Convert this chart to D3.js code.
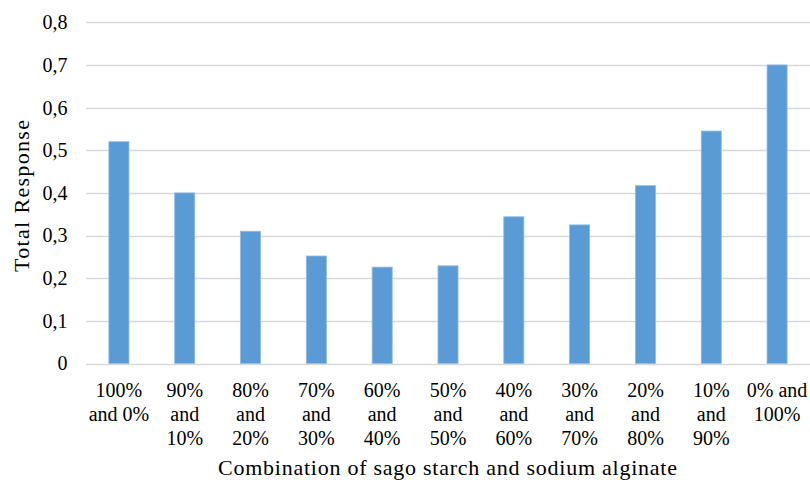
<!DOCTYPE html>
<html>
<head>
<meta charset="utf-8">
<script src="https://cdn.jsdelivr.net/npm/d3@7"></script>
<style>
  html, body { margin: 0; padding: 0; background: #fff; }
  text { font-family: "Liberation Serif", "Times New Roman", serif; fill: #000; }
</style>
</head>
<body>
<svg id="chart" width="810" height="480"></svg>
<script>
// Mixture ratios (sago starch and sodium alginate)
const categories = [
  "100% and 0%", "90% and 10%", "80% and 20%", "70% and 30%", "60% and 40%",
  "50% and 50%", "40% and 60%", "30% and 70%", "20% and 80%", "10% and 90%", "0% and 100%"
];
const totalResponse = [0.52, 0.40, 0.31, 0.252, 0.226, 0.229, 0.344, 0.325, 0.417, 0.545, 0.70];
const yTicks = [0, 0.1, 0.2, 0.3, 0.4, 0.5, 0.6, 0.7, 0.8];
const xTitle = "Combination of sago starch and sodium alginate";
const yTitle = "Total Response";

const FONT = "'Liberation Serif', 'Times New Roman', serif";
const FS = "20px";
const TITLE_FS = "22px";

const svg = d3.select("#chart");
const margin = { left: 86, right: 0, top: 22.3, bottom: 116.5 };
const W = 810, H = 480;

const x = d3.scaleBand()
  .domain(categories)
  .range([margin.left, W - margin.right])
  .paddingInner(0.695)
  .paddingOuter(0.3475);

const y = d3.scaleLinear()
  .domain([0, 0.8])
  .range([H - margin.bottom, margin.top]);

const fmt = v => v === 0 ? "0" : d3.format(".1f")(v).replace(".", ",");

// Horizontal gridlines
svg.append("g")
  .selectAll("line")
  .data(yTicks)
  .join("line")
  .attr("x1", margin.left)
  .attr("x2", W - margin.right)
  .attr("y1", d => Math.round(y(d)) + 0.5)
  .attr("y2", d => Math.round(y(d)) + 0.5)
  .attr("stroke", "#d9d9d9")
  .attr("stroke-width", 1.3);

// Y axis labels
const yAxis = d3.axisLeft(y).tickValues(yTicks).tickFormat(fmt).tickSize(0).tickPadding(0);
const gy = svg.append("g")
  .attr("transform", `translate(67.5,0)`)
  .call(yAxis);
gy.select(".domain").remove();
gy.selectAll("text")
  .style("font-family", FONT)
  .style("font-size", FS)
  .attr("fill", "#000");

// Bars
svg.append("g")
  .selectAll("rect")
  .data(categories.map((c, i) => ({ c, v: totalResponse[i] })))
  .join("rect")
  .attr("x", d => x(d.c))
  .attr("width", x.bandwidth())
  .attr("y", d => y(d.v))
  .attr("height", d => y(0) - y(d.v))
  .attr("fill", "#5b9bd5")
  .attr("stroke", "#8fbbe6")
  .attr("stroke-width", 0.8);

// Category labels, wrapped to the band width
const gx = svg.append("g")
  .attr("transform", `translate(0,${y(0)})`)
  .call(d3.axisBottom(x).tickSize(0).tickPadding(0));
gx.select(".domain").remove();
gx.selectAll("text").each(function(d) {
  const t = d3.select(this);
  t.text(null)
    .attr("y", 0)
    .attr("dy", null)
    .style("font-family", FONT)
    .style("font-size", FS)
    .attr("fill", "#000");
  const words = d.split(" ");
  const maxW = 63;
  let lines = [], cur = [];
  const probe = t.append("tspan");
  words.forEach(w => {
    const trial = cur.concat([w]).join(" ");
    probe.text(trial);
    if (cur.length && probe.node().getComputedTextLength() > maxW) {
      lines.push(cur.join(" "));
      cur = [w];
    } else {
      cur.push(w);
    }
  });
  lines.push(cur.join(" "));
  probe.remove();
  lines.forEach((ln, i) => {
    t.append("tspan").attr("x", 0).attr("y", 33 + i * 24).text(ln);
  });
});

// Axis titles
svg.append("text")
  .attr("x", 447.5)
  .attr("y", 475)
  .attr("text-anchor", "middle")
  .attr("textLength", 459)
  .attr("lengthAdjust", "spacing")
  .style("font-family", FONT)
  .style("font-size", TITLE_FS)
  .text(xTitle);

svg.append("text")
  .attr("transform", `translate(28.5,196) rotate(-90)`)
  .attr("text-anchor", "middle")
  .attr("textLength", 152)
  .attr("lengthAdjust", "spacing")
  .style("font-family", FONT)
  .style("font-size", TITLE_FS)
  .text(yTitle);
</script>
</body>
</html>
